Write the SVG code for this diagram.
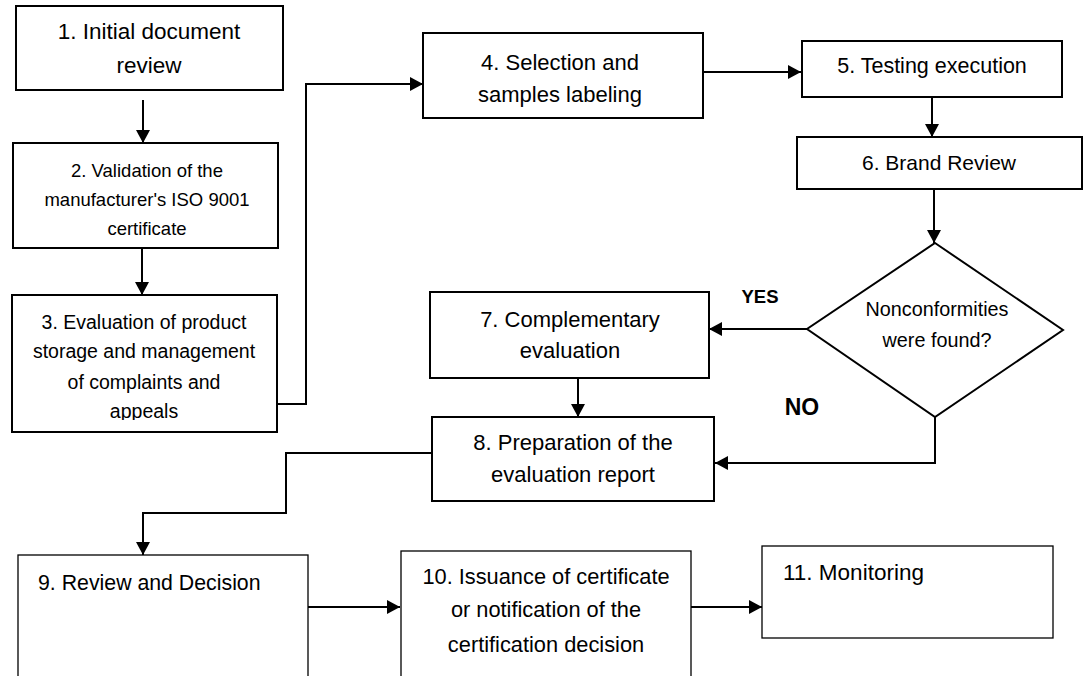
<svg xmlns="http://www.w3.org/2000/svg" width="1084" height="676" viewBox="0 0 1084 676">
<defs>
<style>
.box{fill:#fff;stroke:#000;stroke-width:2}
.thin{fill:#fff;stroke:#000;stroke-width:1.3}
.ln{fill:none;stroke:#000;stroke-width:2}
.t{font-family:"Liberation Sans",Arial,sans-serif;fill:#000;text-anchor:middle}
.l{text-anchor:start}
.b{font-weight:bold}
</style>
<marker id="ah" markerUnits="userSpaceOnUse" markerWidth="14" markerHeight="14" refX="13" refY="7" orient="auto">
<path d="M0,0 L13,7 L0,14 Z" fill="#000"/>
</marker>
<clipPath id="c3"><rect x="12" y="295" width="265" height="125"/></clipPath>
</defs>
<rect width="1084" height="676" fill="#fff"/>
<g id="connectors">
<path class="ln" d="M143,100 V143" marker-end="url(#ah)"/>
<path class="ln" d="M142,248 V295" marker-end="url(#ah)"/>
<path class="ln" d="M277,404 H306 V84 H423" marker-end="url(#ah)"/>
<path class="ln" d="M703,72 H801" marker-end="url(#ah)"/>
<path class="ln" d="M932,97 V137" marker-end="url(#ah)"/>
<path class="ln" d="M934,189 V243" marker-end="url(#ah)"/>
<path class="ln" d="M807,329 H709" marker-end="url(#ah)"/>
<path class="ln" d="M578,378 V417" marker-end="url(#ah)"/>
<path class="ln" d="M935,417 V463 H715" marker-end="url(#ah)"/>
<path class="ln" d="M432,453 H286 V513 H143 V555" marker-end="url(#ah)"/>
<path class="ln" d="M308,607 H400" marker-end="url(#ah)"/>
<path class="ln" d="M691,607 H762" marker-end="url(#ah)"/>
<text class="t b" x="760" y="303" font-size="18.5">YES</text>
<text class="t b" x="802" y="415" font-size="23">NO</text>
</g>
<g id="n1">
<rect class="box" x="16" y="6" width="267" height="84"/>
<text class="t" x="149" y="39" font-size="22.5">1. Initial document</text>
<text class="t" x="149" y="73" font-size="22.5">review</text>
</g>
<g id="n2">
<rect class="box" x="13" y="143" width="265" height="105"/>
<text class="t" x="147" y="177" font-size="18.5">2. Validation of the</text>
<text class="t" x="147" y="206" font-size="18.5">manufacturer's ISO 9001</text>
<text class="t" x="147" y="235" font-size="18.5">certificate</text>
</g>
<g id="n3">
<rect class="box" x="12" y="295" width="265" height="137"/>
<g clip-path="url(#c3)">
<text class="t" x="144" y="329" font-size="19.5">3. Evaluation of product</text>
<text class="t" x="144" y="358" font-size="19.5">storage and management</text>
<text class="t" x="144" y="389" font-size="19.5">of complaints and</text>
<text class="t" x="144" y="418" font-size="19.5">appeals</text>
</g>
</g>
<g id="n4">
<rect class="box" x="423" y="33" width="280" height="85"/>
<text class="t" x="560" y="70" font-size="22">4. Selection and</text>
<text class="t" x="560" y="102" font-size="22">samples labeling</text>
</g>
<g id="n5">
<rect class="box" x="802" y="41" width="260" height="56"/>
<text class="t" x="932" y="73" font-size="21.5">5. Testing execution</text>
</g>
<g id="n6">
<rect class="box" x="797" y="137" width="285" height="52"/>
<text class="t" x="939" y="170" font-size="21">6. Brand Review</text>
</g>
<g id="n_decision">
<path class="box" d="M935,243 L1063,330 L935,417 L807,329 Z"/>
<text class="t" x="937" y="316" font-size="19.8">Nonconformities</text>
<text class="t" x="937" y="347" font-size="19.8">were found?</text>
</g>
<g id="n7">
<rect class="box" x="430" y="292" width="279" height="86"/>
<text class="t" x="570" y="327" font-size="22">7. Complementary</text>
<text class="t" x="570" y="358" font-size="22">evaluation</text>
</g>
<g id="n8">
<rect class="box" x="432" y="417" width="282" height="84"/>
<text class="t" x="573" y="450" font-size="22">8. Preparation of the</text>
<text class="t" x="573" y="482" font-size="22">evaluation report</text>
</g>
<g id="n9">
<rect class="thin" x="18" y="555" width="290" height="140"/>
<text class="t l" x="38" y="590" font-size="21.3">9. Review and Decision</text>
</g>
<g id="n10">
<rect class="thin" x="401" y="551" width="290" height="140"/>
<text class="t" x="546" y="584" font-size="21.8">10. Issuance of certificate</text>
<text class="t" x="546" y="617" font-size="21.8">or notification of the</text>
<text class="t" x="546" y="652" font-size="21.8">certification decision</text>
</g>
<g id="n11">
<rect class="thin" x="762" y="546" width="291" height="92"/>
<text class="t l" x="783" y="580" font-size="22.5">11. Monitoring</text>
</g>
</svg>
